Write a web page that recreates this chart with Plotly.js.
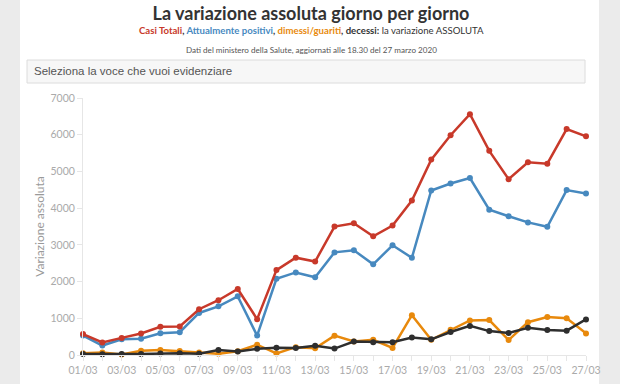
<!DOCTYPE html>
<html><head><meta charset="utf-8">
<script src="https://cdn.plot.ly/plotly-3.0.1.min.js"></script>
<style>html,body{margin:0;padding:0;background:#ebebeb;}#chart{width:620px;height:384px;}</style>
</head><body><div id="chart"></div>
<script>
const dates = ['01/03','02/03','03/03','04/03','05/03','06/03','07/03','08/03','09/03','10/03','11/03','12/03','13/03','14/03','15/03','16/03','17/03','18/03','19/03','20/03','21/03','22/03','23/03','24/03','25/03','26/03','27/03'];
const casiTotali = [570,342,466,587,769,778,1247,1492,1797,977,2313,2651,2547,3497,3590,3233,3526,4207,5322,5986,6557,5560,4789,5249,5210,6153,5959];
const attualmentePositivi = [530,258,428,443,590,620,1145,1326,1598,529,2076,2249,2116,2795,2853,2470,2989,2648,4480,4670,4821,3957,3780,3612,3491,4492,4401];
const dimessiGuariti = [45,66,11,116,138,109,66,33,102,280,41,213,181,527,369,414,192,1084,415,689,943,952,408,894,1036,999,589];
const decessi = [25,18,27,28,41,49,36,133,97,168,196,189,250,175,368,349,345,475,427,627,793,651,601,743,683,662,969];
const yTicks = [0,1000,2000,3000,4000,5000,6000,7000];

const W=620,H=384,L=83,R=34,T=98,B=29;
const pw=W-L-R, ph=H-T-B;
const fx=p=>(p-L)/pw, fy=p=>(H-B-p)/ph;

const RED='#c8392a', BLUE='#4789bf', ORANGE='#e8890c', BLACK='#2e2e2e';
function tr(y,c,n){return {x:dates,y:y,name:n,type:'scatter',mode:'lines+markers',
  line:{color:c,width:2.5},marker:{color:c,size:6},cliponaxis:false,hoverinfo:'x+y+name'};}
const data=[tr(dimessiGuariti,ORANGE,'dimessi/guariti'),tr(decessi,BLACK,'decessi'),
  tr(attualmentePositivi,BLUE,'Attualmente positivi'),tr(casiTotali,RED,'Casi Totali')];

const tickText=dates.map((d,i)=>i%2===0?d:'');
const F="Lato, 'Source Sans Pro', sans-serif";
const layout={
  width:W,height:H,margin:{l:L,r:R,t:T,b:B,pad:0},
  paper_bgcolor:'#ebebeb',plot_bgcolor:'#ffffff',showlegend:false,
  font:{family:F,color:'#999'},
  title:{text:'<b>La variazione assoluta giorno per giorno</b>',x:311/W,xref:'container',xanchor:'center',
    y:1-14/H,yref:'container',yanchor:'middle',font:{family:F,size:18,color:'#333'}},
  xaxis:{type:'category',range:[0,dates.length-1],tickmode:'array',tickvals:dates,ticktext:tickText,
    showgrid:false,zeroline:false,showline:true,linecolor:'#e6e6e6',linewidth:1,
    ticks:'outside',ticklen:5,tickcolor:'#e6e6e6',tickfont:{family:F,size:10.5,color:'#aaa'},fixedrange:true},
  yaxis:{range:[0,7000],tickmode:'array',tickvals:yTicks,showgrid:false,zeroline:false,showline:true,
    linecolor:'#e6e6e6',linewidth:1,ticks:'outside',ticklen:5,tickcolor:'#e6e6e6',
    tickfont:{family:F,size:10.5,color:'#aaa'},
    title:{text:'Variazione assoluta',font:{family:F,size:12,color:'#999'},standoff:3},fixedrange:true},
  shapes:[
    {type:'rect',xref:'paper',yref:'paper',x0:fx(20),x1:fx(599),y0:fy(H),y1:fy(0),fillcolor:'#ffffff',line:{width:0},layer:'below'},
    {type:'rect',xref:'paper',yref:'paper',x0:fx(27),x1:fx(585),y0:fy(83),y1:fy(60),fillcolor:'#f7f7f7',line:{color:'#dcdcdc',width:1},layer:'below'}
  ],
  annotations:[
    {xref:'paper',yref:'paper',x:fx(311),y:fy(30),xanchor:'center',yanchor:'middle',showarrow:false,
     text:'<b><span style="color:'+RED+'">Casi Totali</span>, <span style="color:'+BLUE+'">Attualmente positivi</span>, <span style="color:'+ORANGE+'">dimessi/guariti</span>, decessi:</b> la variazione ASSOLUTA',
     font:{family:F,size:9.6,color:'#333'}},
    {xref:'paper',yref:'paper',x:fx(311),y:fy(50),xanchor:'center',yanchor:'middle',showarrow:false,
     text:'Dati del ministero della Salute, aggiornati alle 18.30 del 27 marzo 2020',font:{family:F,size:8.1,color:'#555'}},
    {xref:'paper',yref:'paper',x:fx(32),y:fy(71.5),xanchor:'left',yanchor:'middle',showarrow:false,
     text:'Seleziona la voce che vuoi evidenziare',font:{family:'Liberation Sans, Arial, sans-serif',size:11.5,color:'#555'}}
  ]
};
Plotly.newPlot('chart',data,layout,{displayModeBar:false,staticPlot:true});
</script></body></html>
